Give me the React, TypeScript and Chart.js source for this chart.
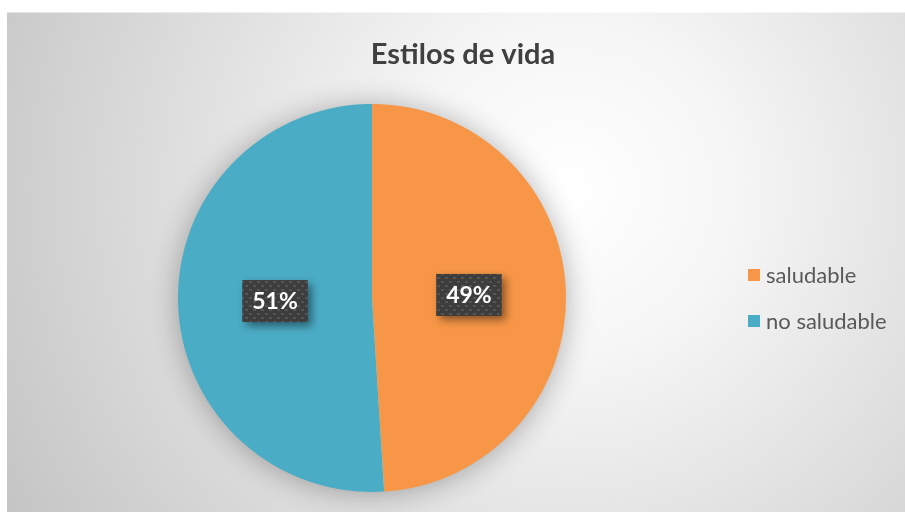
import React, { useEffect, useRef } from "react";
import { Chart, registerables } from "chart.js";

Chart.register(...registerables);

const categories: string[] = ["saludable", "no saludable"];
const values: number[] = [49, 51];
const colors: string[] = ["#F79646", "#4BACC6"];
const chartTitle = "Estilos de vida";

const FONT = "Lato, 'Open Sans', sans-serif";

function makePattern(ctx: CanvasRenderingContext2D): CanvasPattern | string {
  const c = document.createElement("canvas");
  c.width = 8;
  c.height = 8;
  const p = c.getContext("2d");
  if (!p) return "#3f3f3f";
  p.fillStyle = "#3d3d3d";
  p.fillRect(0, 0, 8, 8);
  p.fillStyle = "#545454";
  p.fillRect(1, 1, 3, 2);
  p.fillRect(5, 5, 3, 2);
  return ctx.createPattern(c, "repeat") || "#3f3f3f";
}

const bgPlugin = {
  id: "bgPlugin",
  beforeDraw(chart: any) {
    const ctx: CanvasRenderingContext2D = chart.ctx;
    const W = chart.width;
    const H = chart.height;
    ctx.save();
    ctx.fillStyle = "#ffffff";
    ctx.fillRect(0, 0, W, H);
    const g = ctx.createRadialGradient(570, 190, 0, 570, 190, 650);
    g.addColorStop(0, "#ffffff");
    g.addColorStop(0.25, "#f6f6f6");
    g.addColorStop(1, "#c4c4c4");
    ctx.fillStyle = g;
    ctx.fillRect(7, 12, W - 7, H - 12);
    ctx.fillStyle = "rgba(255,255,255,0.5)";
    ctx.fillRect(7, 12, W - 7, 1);
    // title
    ctx.fillStyle = "#404040";
    ctx.font = `bold 29px ${FONT}`;
    ctx.textAlign = "center";
    ctx.textBaseline = "middle";
    ctx.fillText(chartTitle, 463, 55);
    // legend
    ctx.font = `22px ${FONT}`;
    ctx.textAlign = "left";
    const rows = [275, 321];
    categories.forEach((lab, i) => {
      ctx.fillStyle = colors[i];
      ctx.fillRect(748, rows[i] - 6, 12, 12);
      ctx.fillStyle = "#595959";
      ctx.fillText(lab, 766, rows[i] + 1);
    });
    ctx.restore();
  },
  beforeDatasetsDraw(chart: any) {
    const meta = chart.getDatasetMeta(0);
    const arc = meta.data[0];
    if (!arc) return;
    const ctx: CanvasRenderingContext2D = chart.ctx;
    ctx.save();
    ctx.shadowColor = "rgba(0,0,0,0.32)";
    ctx.shadowBlur = 30;
    ctx.shadowOffsetX = 0;
    ctx.shadowOffsetY = 2;
    ctx.fillStyle = "#dddddd";
    ctx.beginPath();
    ctx.arc(arc.x, arc.y, arc.outerRadius - 1, 0, Math.PI * 2);
    ctx.fill();
    ctx.restore();
  },
  afterDatasetsDraw(chart: any) {
    const ctx: CanvasRenderingContext2D = chart.ctx;
    const meta = chart.getDatasetMeta(0);
    const total = values.reduce((a, b) => a + b, 0);
    const pat = makePattern(ctx);
    meta.data.forEach((a: any, i: number) => {
      const mid = (a.startAngle + a.endAngle) / 2;
      const r = a.outerRadius * 0.5;
      const cx = a.x + Math.cos(mid) * r;
      const cy = a.y + Math.sin(mid) * r;
      const text = Math.round((values[i] / total) * 100) + "%";
      ctx.save();
      ctx.font = `bold 23px ${FONT}`;
      const tw = ctx.measureText(text).width;
      const bw = tw + 20;
      const bh = 42;
      const x0 = cx - bw / 2;
      const y0 = cy - bh / 2;
      ctx.shadowColor = "rgba(0,0,0,0.45)";
      ctx.shadowBlur = 8;
      ctx.shadowOffsetX = 4;
      ctx.shadowOffsetY = 4;
      ctx.fillStyle = pat;
      ctx.fillRect(x0, y0, bw, bh);
      ctx.shadowColor = "transparent";
      ctx.fillStyle = "#ffffff";
      ctx.textAlign = "center";
      ctx.textBaseline = "middle";
      ctx.fillText(text, cx, cy + 1);
      ctx.restore();
    });
  },
};

export default function App() {
  const ref = useRef<HTMLCanvasElement | null>(null);
  useEffect(() => {
    document.body.style.margin = "0";
    if (!ref.current) return;
    const chart = new Chart(ref.current, {
      type: "pie",
      data: {
        labels: categories,
        datasets: [
          {
            data: values,
            backgroundColor: colors,
            borderWidth: 0,
          },
        ],
      },
      options: {
        animation: false,
        responsive: false,
        maintainAspectRatio: false,
        layout: { padding: { top: 104, bottom: 20, left: 178, right: 339 } },
        plugins: {
          legend: { display: false },
          title: { display: false },
          tooltip: { enabled: false },
        },
      },
      plugins: [bgPlugin],
    });
    return () => chart.destroy();
  }, []);
  return (
    <div style={{ position: "absolute", left: 0, top: 0, width: 905, height: 512 }}>
      <canvas ref={ref} width={905} height={512} />
    </div>
  );
}
